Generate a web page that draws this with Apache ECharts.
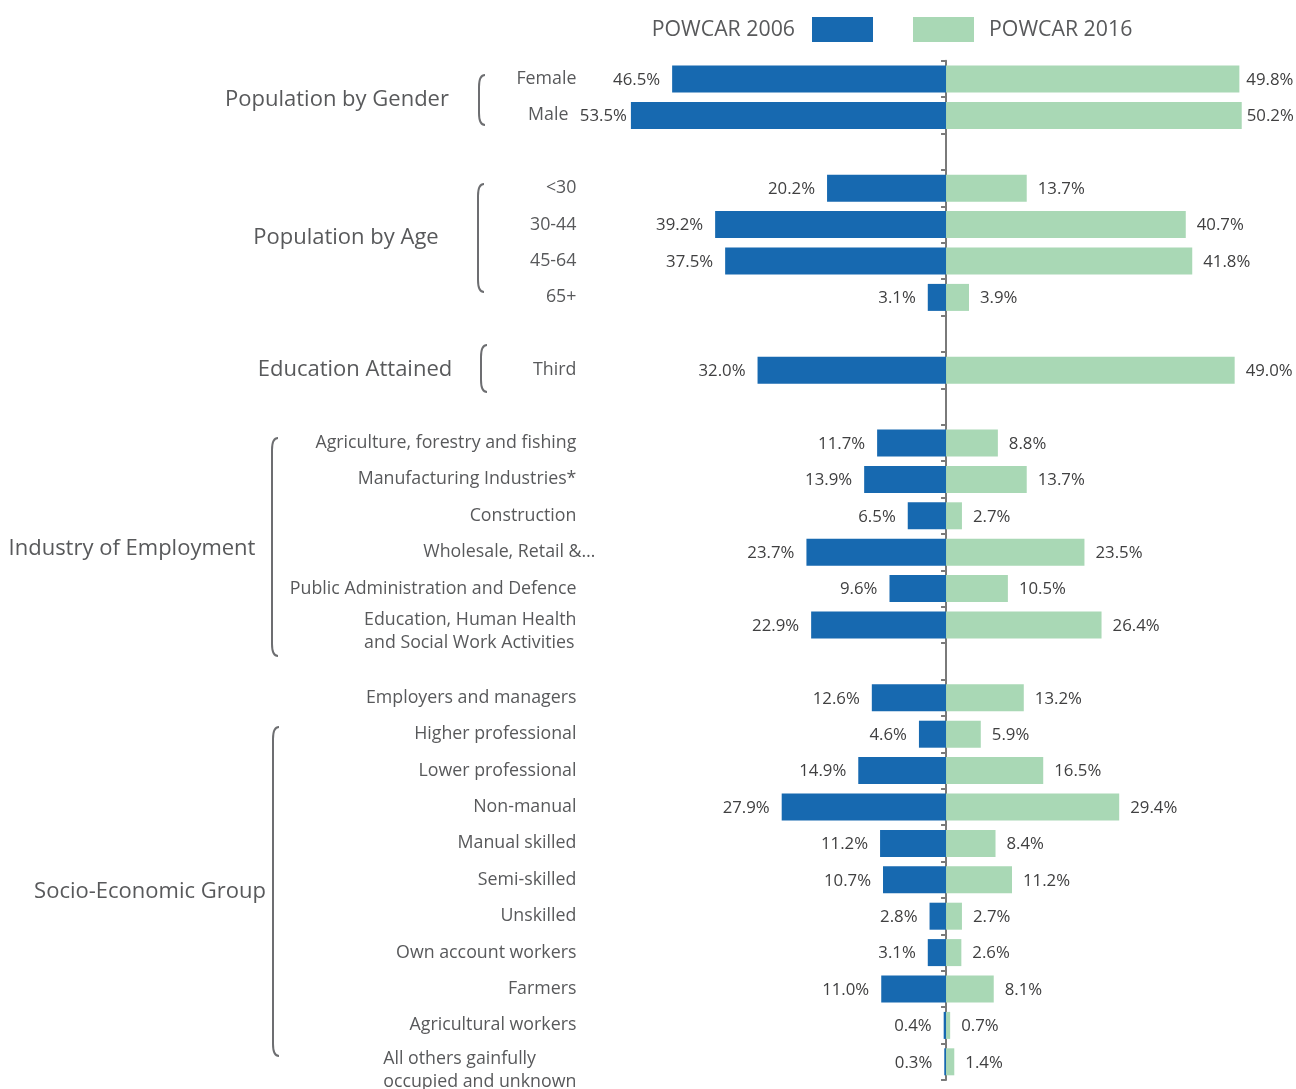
<!DOCTYPE html>
<html>
<head>
<meta charset="utf-8">
<script src="https://cdn.jsdelivr.net/npm/echarts@6/dist/echarts.min.js"></script>
<style>
  html, body { margin: 0; padding: 0; background: #ffffff; }
  #chart { width: 1296px; height: 1089px; }
</style>
</head>
<body>
<div id="chart"></div>
<script>
// Row labels, top to bottom; whitespace-only entries are spacer rows between groups.
const categories = [
  'Female', 'Male',
  ' ',
  '<30', '30-44', '45-64', '65+',
  '  ',
  'Third',
  '   ',
  'Agriculture, forestry and fishing', 'Manufacturing Industries*', 'Construction',
  'Wholesale, Retail &\u2026', 'Public Administration and Defence',
  'Education, Human Health\nand Social Work Activities',
  '    ',
  'Employers and managers', 'Higher professional', 'Lower professional', 'Non-manual',
  'Manual skilled', 'Semi-skilled', 'Unskilled', 'Own account workers', 'Farmers',
  'Agricultural workers', 'All others gainfully\noccupied and unknown'
];

const seriesNames = ['POWCAR 2006', 'POWCAR 2016'];

// Shares (%) per row
const powcar2006 = [
  46.5, 53.5,
  null,
  20.2, 39.2, 37.5, 3.1,
  null,
  32.0,
  null,
  11.7, 13.9, 6.5, 23.7, 9.6, 22.9,
  null,
  12.6, 4.6, 14.9, 27.9, 11.2, 10.7, 2.8, 3.1, 11.0, 0.4, 0.3
];
const powcar2016 = [
  49.8, 50.2,
  null,
  13.7, 40.7, 41.8, 3.9,
  null,
  49.0,
  null,
  8.8, 13.7, 2.7, 23.5, 10.5, 26.4,
  null,
  13.2, 5.9, 16.5, 29.4, 8.4, 11.2, 2.7, 2.6, 8.1, 0.7, 1.4
];

// Group headings shown left of the row labels
const groupNames = [
  'Population by Gender', 'Population by Age', 'Education Attained',
  'Industry of Employment', 'Socio-Economic Group'
];

// ---- styling / layout ----
const FONT = 'Open Sans';
const GREY_TEXT = '#58595b';
const VALUE_TEXT = '#404041';
const BLUE = '#1769b0';
const GREEN = '#a9d8b5';
const AXIS_GREY = '#7a7a7a';
const BRACE_GREY = '#6d6e71';
const LABEL_SIZE = 17.8;
const LINE_GAP = 23;
const GRID_LEFT = 604.4;
const LABEL_MARGIN = 9;
const LABEL_PAD = 19;

// heading placement [centre x, centre y] and brace [x, top, bottom]
const groupLayout = [
  { x: 337, y: 100, brace: [479, 75, 125] },
  { x: 346, y: 238, brace: [478, 184, 292] },
  { x: 355, y: 370, brace: [481, 345, 392] },
  { x: 132, y: 549, brace: [272, 438, 656] },
  { x: 150, y: 892, brace: [273, 727, 1056] }
];

// vertical nudge of two-line row labels, keyed by their first word
const multiLineShift = { 'Education,': 6.5, 'All': 8.5 };

const measureCtx = document.createElement('canvas').getContext('2d');
measureCtx.font = LABEL_SIZE + 'px "' + FONT + '"';
function blockWidth(text) {
  return Math.max.apply(null, text.split('\n').map(l => measureCtx.measureText(l).width));
}

const rich = {
  t: { padding: [0, LABEL_PAD, 0, 0] },
  male: { padding: [0, LABEL_PAD + 8, 0, 0] },
  w: {}
};
Object.keys(rich).forEach(k => {
  rich[k].fontFamily = FONT;
  rich[k].fontSize = LABEL_SIZE;
  rich[k].color = GREY_TEXT;
});

// two-line labels are drawn as left-aligned text blocks (see below)
function categoryLabel(v) {
  if (!v.trim() || v.indexOf('\n') >= 0) return '';
  if (v === 'Male') return '{male|' + v + '}';
  if (v.indexOf('Wholesale') === 0) return '{w|' + v + '}';
  return '{t|' + v + '}';
}

// labels that sit tighter against their bar
const labelDistance2006 = { 'Male': 4 };
const labelDistance2016 = { 'Female': 7, 'Male': 5 };

function barData(values, sign, distances) {
  return values.map((v, i) => {
    if (v == null) return null;
    const item = { value: sign * v };
    if (distances[categories[i]] != null) item.label = { distance: distances[categories[i]] };
    return item;
  });
}

const pctLabel = p => Math.abs(p.value).toFixed(1) + '%';

// a tall "(" : hooked ends joined by a straight stroke
function braceElements(x, top, bottom) {
  const w = 6, r = 12;
  const style = { stroke: BRACE_GREY, lineWidth: 2, fill: null };
  return [
    { type: 'bezierCurve', silent: true, style: style,
      shape: { x1: x + w, y1: top, cpx1: x, cpy1: top, x2: x, y2: top + r } },
    { type: 'line', silent: true, style: style,
      shape: { x1: x, y1: top + r, x2: x, y2: bottom - r } },
    { type: 'bezierCurve', silent: true, style: style,
      shape: { x1: x, y1: bottom - r, cpx1: x, cpy1: bottom, x2: x + w, y2: bottom } }
  ];
}

const chart = echarts.init(document.getElementById('chart'), null, { renderer: 'canvas' });

chart.setOption({
  backgroundColor: '#ffffff',
  animation: false,
  textStyle: { fontFamily: FONT },
  legend: [
    {
      data: [seriesNames[0]], right: 423, top: 17, padding: 0,
      itemWidth: 61, itemHeight: 25, align: 'right', icon: 'rect',
      textStyle: { fontFamily: FONT, fontSize: 21.3, color: GREY_TEXT, padding: [0, 12, 0, 0] }
    },
    {
      data: [seriesNames[1]], left: 913, top: 17, padding: 0,
      itemWidth: 61, itemHeight: 25, align: 'left', icon: 'rect',
      textStyle: { fontFamily: FONT, fontSize: 21.3, color: GREY_TEXT, padding: [0, 0, 0, 10] }
    }
  ],
  grid: {
    left: GRID_LEFT, right: 26, top: 60.8, bottom: 9,
    containLabel: false, outerBoundsMode: 'none'
  },
  xAxis: {
    type: 'value', min: -58, max: 55, show: false,
    splitLine: { show: false }
  },
  yAxis: [
    {
      type: 'category', data: categories, inverse: true, position: 'left',
      axisLine: { show: false, onZero: false },
      axisTick: { show: false },
      axisLabel: {
        interval: 0, margin: LABEL_MARGIN, align: 'right',
        fontFamily: FONT, fontSize: LABEL_SIZE, color: GREY_TEXT,
        formatter: categoryLabel, rich: rich
      }
    },
    {
      type: 'category', data: categories, inverse: true, position: 'left',
      axisLine: { show: true, onZero: true, lineStyle: { color: AXIS_GREY, width: 2 } },
      axisTick: { show: true, length: 5, lineStyle: { color: AXIS_GREY, width: 2 } },
      axisLabel: { show: false }
    }
  ],
  series: [
    {
      name: seriesNames[0], type: 'bar', stack: 'share', barWidth: 27,
      yAxisIndex: 0,
      itemStyle: { color: BLUE },
      label: {
        show: true, position: 'left', distance: 12, formatter: pctLabel,
        fontFamily: FONT, fontSize: 16.8, color: VALUE_TEXT, offset: [0, 1]
      },
      data: barData(powcar2006, -1, labelDistance2006)
    },
    {
      name: seriesNames[1], type: 'bar', stack: 'share', barWidth: 27,
      yAxisIndex: 0,
      itemStyle: { color: GREEN },
      label: {
        show: true, position: 'right', distance: 11, formatter: pctLabel,
        fontFamily: FONT, fontSize: 16.8, color: VALUE_TEXT, offset: [0, 1]
      },
      data: barData(powcar2016, 1, labelDistance2016)
    }
  ]
});

// headings, braces and the two-line row labels
const graphics = [];
groupNames.forEach((name, i) => {
  const g = groupLayout[i];
  graphics.push({
    type: 'text', x: g.x, y: g.y, silent: true,
    style: {
      text: name, fontFamily: FONT, fontSize: 22, fill: GREY_TEXT,
      align: 'center', verticalAlign: 'middle'
    }
  });
  braceElements(g.brace[0], g.brace[1], g.brace[2]).forEach(el => graphics.push(el));
});

const labelRight = GRID_LEFT - LABEL_MARGIN - LABEL_PAD;
categories.forEach((c, i) => {
  if (c.indexOf('\n') < 0) return;
  const rowY = chart.convertToPixel({ yAxisIndex: 0 }, i);
  const shift = multiLineShift[c.split(' ')[0]] || 0;
  graphics.push({
    type: 'text', x: labelRight - blockWidth(c), y: rowY + shift, silent: true,
    style: {
      text: c, fontFamily: FONT, fontSize: LABEL_SIZE, fill: GREY_TEXT,
      lineHeight: LINE_GAP, align: 'left', verticalAlign: 'middle'
    }
  });
});

chart.setOption({ graphic: graphics });
</script>
</body>
</html>
